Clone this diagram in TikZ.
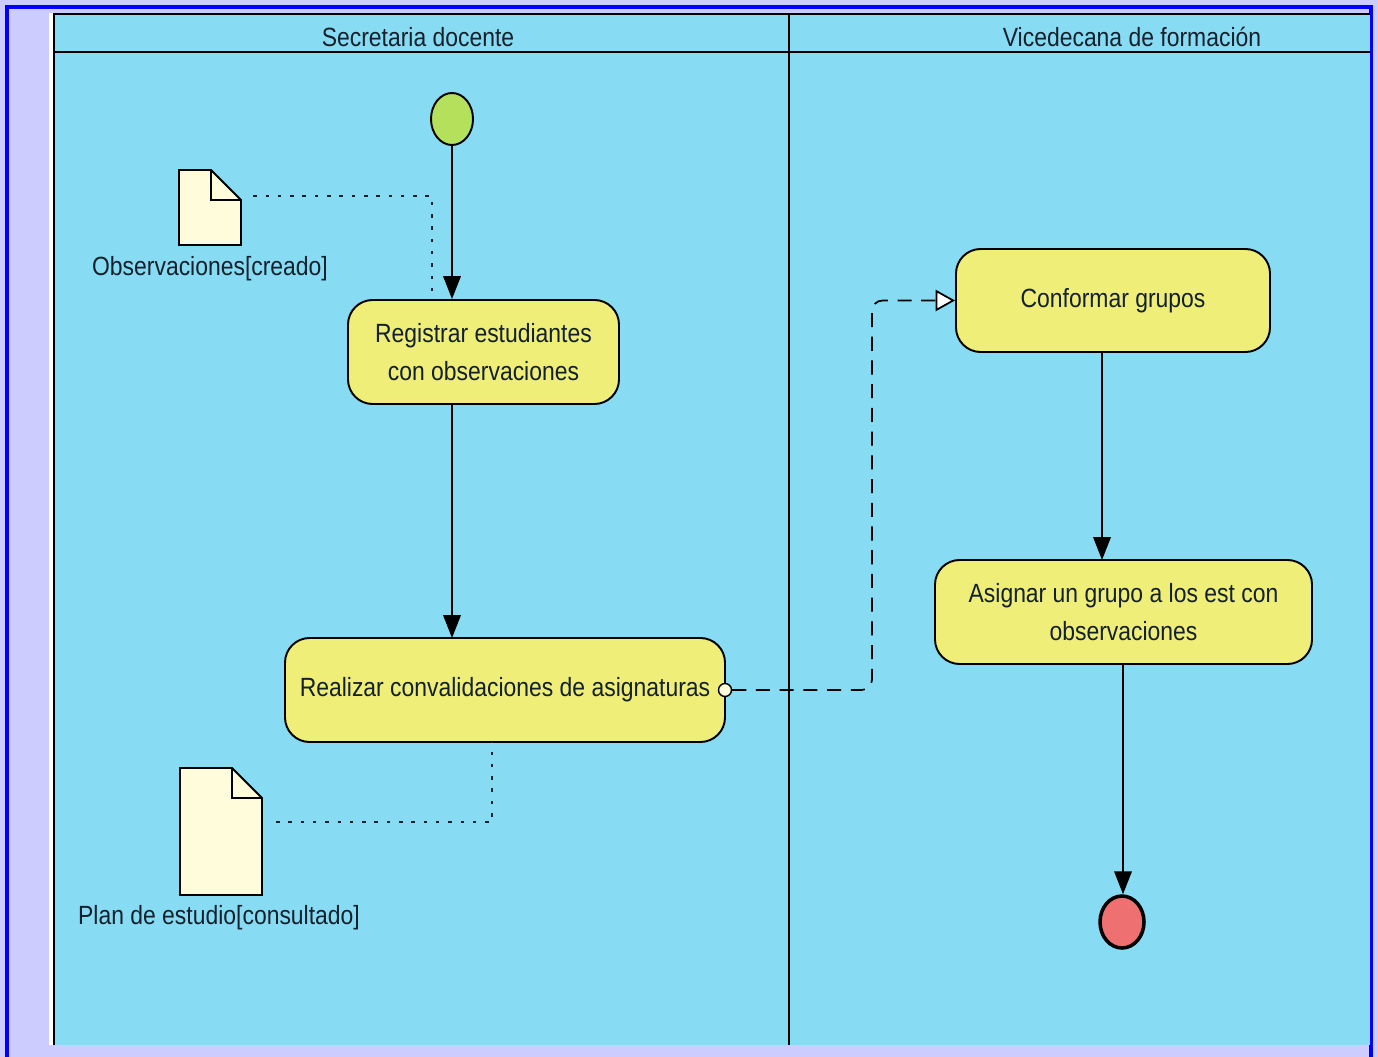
\documentclass[tikz,border=0pt]{standalone}
\usepackage{fontspec}
\setmainfont{Liberation Sans}[FakeStretch=0.87]
\usetikzlibrary{arrows.meta,shapes.geometric}
\definecolor{marco}{HTML}{0000FF}
\definecolor{lila}{HTML}{CCCCFF}
\definecolor{carril}{HTML}{87DCF3}
\definecolor{amarillo}{HTML}{EEEE78}
\definecolor{documento}{HTML}{FFFCDC}
\definecolor{verde}{HTML}{B4E05C}
\definecolor{rojo}{HTML}{EE7070}
\definecolor{texto}{HTML}{14202C}

\begin{document}
\begin{tikzpicture}[x=0.02cm,y=-0.02cm]
\tikzstyle{actividad}=[draw,line width=1.1pt,rounded corners=14pt,fill=amarillo,align=center,text=texto,font=\fontsize{15}{22}\selectfont]
\tikzstyle{etiqueta}=[text=texto,font=\fontsize{15}{18}\selectfont]
\tikzstyle{flujo}=[line width=0.8pt,-{Triangle[length=13pt,width=10pt]}]
\tikzstyle{objeto}=[line width=1.5pt,dash pattern=on 2pt off 5pt,texto]
\tikzstyle{doc}=[draw,line width=1.1pt,fill=documento]

\def\carrilA{54}
\def\carrilB{789}
\def\carrilC{1370}
\def\cabeza{52}
\def\pliegue{30}

\useasboundingbox (0,0) rectangle (1378,1057);
\fill[lila] (0,0) rectangle (1378,1057);
\draw[marco,line width=2pt] (7,1060)--(7,7)--(1371,7)--(1371,1060);
\fill[white] (49,13) rectangle (\carrilA,1045);
\fill[carril] (\carrilA,13) rectangle (\carrilC,1045);
\draw[line width=1pt] (\carrilA,1045)--(\carrilA,14)--(\carrilC,14);
\draw[line width=1pt] (\carrilA,\cabeza)--(\carrilC,\cabeza);
\draw[line width=0.8pt] (\carrilB,14)--(\carrilB,1045);

\node[etiqueta] (sd) at (418,37) {Secretaria docente};
\node[etiqueta] (vf) at (1132,37) {Vicedecana de formación};

% inicio y fin
\node[draw,line width=1.1pt,ellipse,fill=verde,minimum width=42*0.02cm,minimum height=52*0.02cm,inner sep=0pt] (ini) at (452,119) {};
\node[draw,line width=2pt,ellipse,fill=rojo,minimum width=44*0.02cm,minimum height=52*0.02cm,inner sep=0pt] (fin) at (1122,922) {};

% actividades
\node[actividad,minimum width=271*0.02cm,minimum height=104*0.02cm] (reg) at (483.5,352) {Registrar estudiantes\\con observaciones};
\node[actividad,minimum width=440*0.02cm,minimum height=104*0.02cm] (conv) at (505,690) {Realizar convalidaciones de asignaturas};
\node[actividad,minimum width=314*0.02cm,minimum height=103*0.02cm] (conf) at (1113,300.5) {Conformar grupos};
\node[actividad,minimum width=377*0.02cm,minimum height=104*0.02cm] (asig) at (1123.5,612) {Asignar un grupo a los est con\\observaciones};

% documentos
\draw[doc] (179,170)--(241-\pliegue,170)--(241,170+\pliegue)--(241,245)--(179,245)--cycle;
\draw[line width=1.1pt] (241-\pliegue,170)--(241-\pliegue,170+\pliegue)--(241,170+\pliegue);
\coordinate (obs) at (241,196);
\node[etiqueta] (obsl) at (210,269) {Observaciones[creado]};

\draw[doc] (180,768)--(262-\pliegue,768)--(262,768+\pliegue)--(262,895)--(180,895)--cycle;
\draw[line width=1.1pt] (262-\pliegue,768)--(262-\pliegue,768+\pliegue)--(262,768+\pliegue);
\coordinate (plan) at (262,822);
\node[etiqueta] (planl) at (219,918) {Plan de estudio[consultado]};

% flujos
\draw[flujo] (ini.south) -- (ini.south |- reg.north);
\draw[flujo] (452,404) -- (452,638);
\draw[flujo] (1102,352) -- (1102,560);
\draw[flujo] (1123,664) -- (fin.north -| 1123,0);

\draw[objeto] ([xshift=7]obs) -- (432,196) -- (432,300);
\draw[objeto] ([xshift=8]plan) -- (492,822) -- (492,742);

% flujo de objeto
\node[draw,circle,line width=0.8pt,fill=documento,minimum size=13*0.02cm,inner sep=0pt] (pin) at (725,690) {};
\draw[line width=1pt,dash pattern=on 8pt off 5.5pt,rounded corners=6pt,-{Triangle[open,length=11pt,width=12pt,fill=white]}] (pin.east) -- (872,690) -- (872,300.5) -- (conf.west);
\end{tikzpicture}
\end{document}
